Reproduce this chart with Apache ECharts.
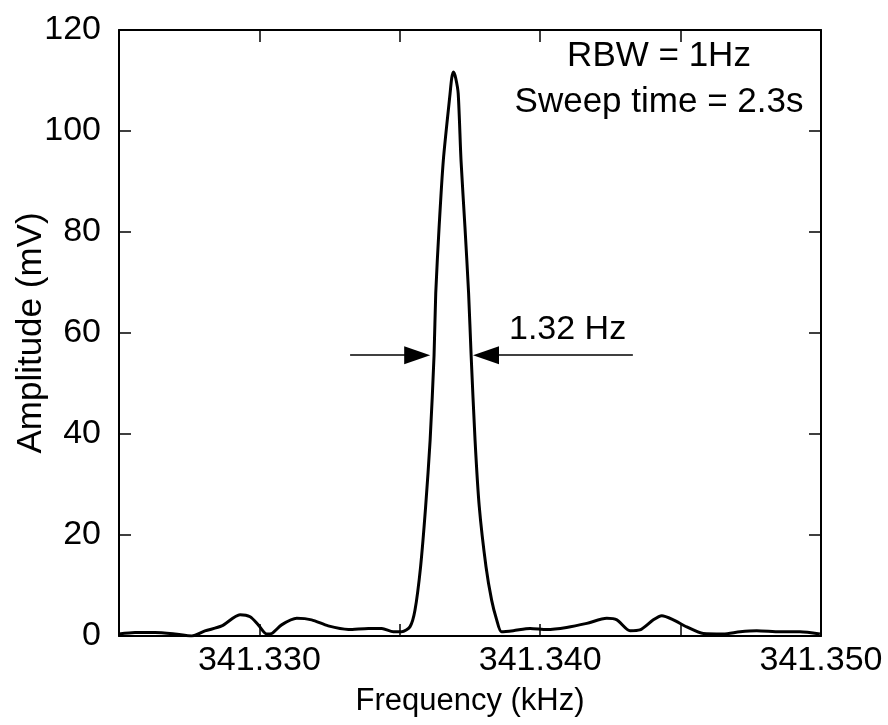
<!DOCTYPE html>
<html>
<head>
<meta charset="utf-8">
<script src="https://cdn.jsdelivr.net/npm/echarts@6/dist/echarts.min.js"></script>
<style>html,body{margin:0;padding:0;background:#fff}#chart{width:888px;height:725px}</style>
</head>
<body>
<div id="chart"></div>
<script>
// Frequency (kHz)
var freq = [341.32500, 341.32557, 341.32628, 341.32699, 341.32759, 341.32806, 341.32866, 341.32931, 341.32967, 341.32996,
  341.33026, 341.33044, 341.33079, 341.33133, 341.33186, 341.33245, 341.33317, 341.33388, 341.33436, 341.33477,
  341.33507, 341.33536, 341.33554, 341.33574, 341.33592, 341.33608, 341.33622, 341.33628, 341.33640, 341.33655,
  341.33679, 341.33685, 341.33691, 341.33699, 341.33708, 341.33718, 341.33732, 341.33745, 341.33754, 341.33768,
  341.33783, 341.33807, 341.33827, 341.33845, 341.33862, 341.33904, 341.33964, 341.34023, 341.34094, 341.34166,
  341.34237, 341.34273, 341.34320, 341.34355, 341.34403, 341.34433, 341.34474, 341.34522, 341.34581, 341.34652,
  341.34712, 341.34771, 341.34854, 341.34925, 341.34996];
// Amplitude (mV)
var amplitude = [0.4, 0.7, 0.7, 0.4, 0.0, 1.0, 2.0, 4.2, 3.8, 2.2,
  0.4, 0.5, 2.2, 3.5, 3.2, 2.0, 1.3, 1.5, 1.5, 0.85,
  0.85, 1.8, 5.1, 13.7, 25.6, 38.8, 55.6, 67.9, 81.0, 94.2,
  107.4, 110.5, 111.7, 110.5, 107.4, 94.2, 81.0, 67.9, 55.6, 38.8,
  25.6, 13.7, 7.1, 3.2, 0.85, 1.05, 1.5, 1.3, 1.7, 2.5,
  3.5, 3.2, 1.05, 1.2, 3.2, 4.0, 3.2, 1.8, 0.5, 0.4,
  0.85, 1.05, 0.85, 0.85, 0.4];
// Axis ranges / ticks
var xMin = 341.325, xMax = 341.350, xStep = 0.005;
var yMin = 0, yMax = 120, yStep = 20;
// FWHM annotation (arrow line start / arrowhead centre, in data units)
var fwhmLevel = 55.6;
var fwhmLeftArrow = [341.33323, 341.33562];
var fwhmRightArrow = [341.34330, 341.33807];
var fwhmLabel = '1.32 Hz';
var infoLines = ['RBW = 1Hz', 'Sweep time = 2.3s'];

var FONT = '"Liberation Sans", Arial, Helvetica, sans-serif';
var data = freq.map(function (f, i) { return [f, amplitude[i]]; });

function xLabel(v) {
  var k = Math.round(v * 1000);
  return (k % 10 === 0) ? (k / 1000).toFixed(3) : '';
}

var baseX = {
  type: 'value', min: xMin, max: xMax, interval: xStep,
  axisLine: { show: true, onZero: false, lineStyle: { color: '#000', width: 2 } },
  axisTick: { show: true, inside: true, length: 12, lineStyle: { color: '#000', width: 1.5 } },
  splitLine: { show: false }
};
var baseY = {
  type: 'value', min: yMin, max: yMax, interval: yStep,
  axisLine: { show: true, onZero: false, lineStyle: { color: '#000', width: 2 } },
  axisTick: { show: true, inside: true, length: 12, lineStyle: { color: '#000', width: 1.5 } },
  splitLine: { show: false }
};

var chart = echarts.init(document.getElementById('chart'), null, { renderer: 'canvas' });
chart.setOption({
  animation: false,
  backgroundColor: '#fff',
  grid: { left: 119, right: 67, top: 30, bottom: 89, containLabel: false, outerBoundsMode: 'none' },
  xAxis: [
    Object.assign({}, baseX, {
      position: 'bottom',
      axisLabel: { show: true, formatter: xLabel, color: '#000', fontSize: 34, fontFamily: FONT, margin: 8, hideOverlap: false },
      name: 'Frequency (kHz)', nameLocation: 'middle', nameGap: 50,
      nameTextStyle: { color: '#000', fontSize: 31, fontFamily: FONT }
    }),
    Object.assign({}, baseX, { position: 'top', axisLabel: { show: false } })
  ],
  yAxis: [
    Object.assign({}, baseY, {
      position: 'left',
      axisLabel: { show: true, color: '#000', fontSize: 34, fontFamily: FONT, margin: 18 },
      name: 'Amplitude (mV)', nameLocation: 'middle', nameGap: 70, nameMoveOverlap: false,
      nameTextStyle: { color: '#000', fontSize: 35, fontFamily: FONT }
    }),
    Object.assign({}, baseY, { position: 'right', axisLabel: { show: false } })
  ],
  series: [
    {
      type: 'line', xAxisIndex: 0, yAxisIndex: 0,
      data: data, showSymbol: false, symbol: 'none',
      smooth: 0.25,
      lineStyle: { color: '#000', width: 3 },
      markLine: {
        silent: true, animation: false,
        symbol: ['none', 'triangle'], symbolSize: [18, 26],
        lineStyle: { color: '#000', width: 1.5, type: 'solid' },
        label: { show: false },
        data: [
          [{ coord: [fwhmLeftArrow[0], fwhmLevel] }, { coord: [fwhmLeftArrow[1], fwhmLevel] }],
          [{ coord: [fwhmRightArrow[0], fwhmLevel] }, { coord: [fwhmRightArrow[1], fwhmLevel] }]
        ]
      }
    }
  ],
  graphic: [
    { type: 'text', z: 10, x: 659, y: 39,
      style: { text: infoLines[0], fill: '#000', font: '35px ' + FONT, align: 'center', verticalAlign: 'top' } },
    { type: 'text', z: 10, x: 659, y: 85,
      style: { text: infoLines[1], fill: '#000', font: '35px ' + FONT, align: 'center', verticalAlign: 'top' } },
    { type: 'text', z: 10, x: 509, y: 347,
      style: { text: fwhmLabel, fill: '#000', font: '34px ' + FONT, align: 'left', verticalAlign: 'bottom' } }
  ]
});
</script>
</body>
</html>
